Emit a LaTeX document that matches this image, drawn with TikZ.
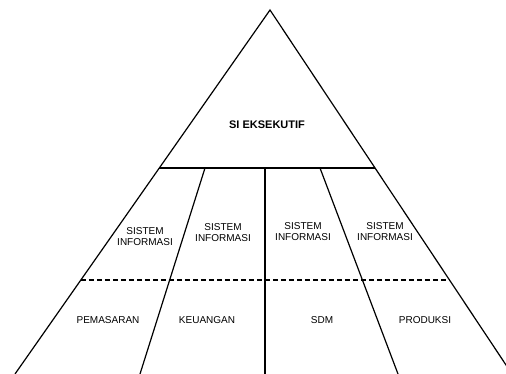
\documentclass[tikz,border=0pt]{standalone}
\usepackage{fontspec}
\setmainfont{Liberation Sans}
\usetikzlibrary{calc}

\begin{document}
\begin{tikzpicture}[
  x=1pt, y=-1pt,
  every node/.style={font=\fontsize{10}{11}\selectfont, inner sep=0pt},
  edge/.style={draw=black, line width=1.2pt},
  divider/.style={draw=black, line width=1.2pt, dash pattern=on 5pt off 3pt},
  title/.style={font=\fontsize{11}{13}\selectfont\bfseries},
  sysinfo/.style={align=center}
]
  \useasboundingbox (0,0) rectangle (506,374);
  \clip (0,0) rectangle (506,374);

  % Titik sudut piramida
  \coordinate (apex) at (270,10);
  \coordinate (leftfoot) at (15,374);
  \coordinate (rightfoot) at (512,374);
  \coordinate (topleft) at ($(apex)!0.434!(leftfoot)$);
  \coordinate (topright) at ($(apex)!0.434!(rightfoot)$);
  \coordinate (dashleft) at ($(apex)!0.742!(leftfoot)$);
  \coordinate (dashright) at ($(apex)!0.742!(rightfoot)$);

  % Titik sekat antar bagian
  \coordinate (cut1top) at (205,168);
  \coordinate (cut1foot) at (140,374);
  \coordinate (cut2top) at (265,168);
  \coordinate (cut2foot) at (265,374);
  \coordinate (cut3top) at (320,168);
  \coordinate (cut3foot) at (398,374);

  % Sisi piramida dan garis puncak
  \draw[edge] (leftfoot) -- (apex) -- (rightfoot);
  \draw[edge] (topleft) -- (topright);

  % Sekat antar sistem
  \draw[edge] (cut1top) -- (cut1foot);
  \draw[edge] (cut2top) -- (cut2foot);
  \draw[edge] (cut3top) -- (cut3foot);

  % Garis putus-putus
  \draw[divider] (dashleft) -- (dashright);

  % Label
  \node[title] (exec) at (267,125) {SI EKSEKUTIF};
  \node[sysinfo] (si1) at (145,237) {SISTEM\\INFORMASI};
  \node[sysinfo] (si2) at (223,233) {SISTEM\\INFORMASI};
  \node[sysinfo] (si3) at (303,232) {SISTEM\\INFORMASI};
  \node[sysinfo] (si4) at (385,232) {SISTEM\\INFORMASI};
  \node (mkt) at (108,320) {PEMASARAN};
  \node (fin) at (207,320) {KEUANGAN};
  \node (hr) at (322,320) {SDM};
  \node (prod) at (425,320) {PRODUKSI};

\end{tikzpicture}
\end{document}
